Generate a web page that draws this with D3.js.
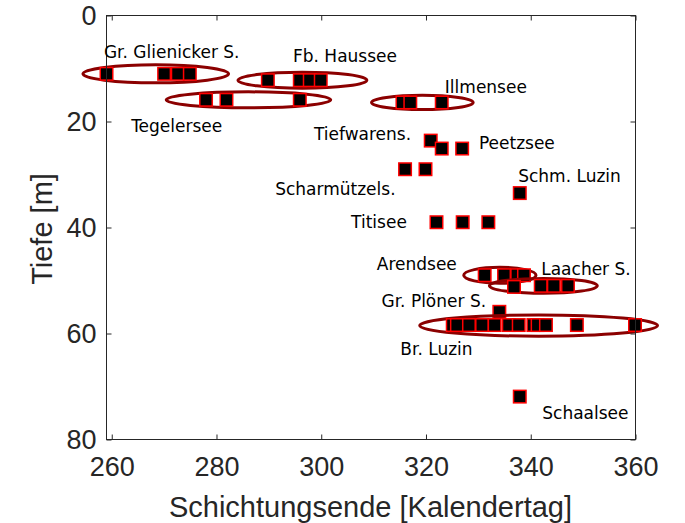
<!DOCTYPE html>
<html>
<head>
<meta charset="utf-8">
<script src="https://cdn.jsdelivr.net/npm/d3@7"></script>
<style>
  html, body { margin: 0; padding: 0; background: #fff; }
  svg { display: block; }
</style>
</head>
<body>
<svg id="chart" width="685" height="523"></svg>
<script>
// ---------------- data ----------------
const lakeNames = ["Gr. Glienicker S.", "Fb. Haussee", "Tegelersee", "Illmensee", "Tiefwarens.", "Peetzsee",
  "Scharmützels.", "Schm. Luzin", "Titisee", "Arendsee", "Laacher S.", "Gr. Plöner S.", "Br. Luzin", "Schaalsee"];

// end of stratification (calendar day) per lake
const dayValues = [
  [259.1, 270.1, 272.7, 275.0],
  [289.9, 296.0, 297.9, 300.0],
  [278.1, 282.0, 296.0],
  [315.6, 317.1, 323.1],
  [321.0, 323.1],
  [327.0],
  [316.1, 320.0],
  [338.0],
  [322.1, 327.1, 332.0],
  [331.3, 335.0, 337.5, 338.8],
  [336.9, 342.0, 344.5, 347.2],
  [334.1],
  [325.2, 326.0, 328.3, 330.8, 333.2, 335.9, 337.8, 340.6, 341.4, 343.0, 348.9, 360.0],
  [338.0]
];
// depth (m) per lake
const depthValues = [
  [11.1, 11.1, 11.1, 11.1],
  [12.3, 12.3, 12.3, 12.3],
  [16.0, 16.0, 16.0],
  [16.5, 16.5, 16.5],
  [23.7, 25.2],
  [25.2],
  [29.1, 29.1],
  [33.6],
  [39.1, 39.1, 39.1],
  [49.1, 49.1, 49.1, 49.1],
  [51.3, 51.1, 51.1, 51.1],
  [56.0],
  [58.5, 58.5, 58.5, 58.5, 58.5, 58.5, 58.5, 58.5, 58.5, 58.5, 58.5, 58.5],
  [72.0]
];
// spread ellipses (null = none): centre day, centre depth, half-width (days), half-height (m)
const ellipseDay    = [268.5, 296.5, 286.2, 319.4, null, null, null, null, null, 334.2, 342.5, null, 341.6, null];
const ellipseDepth  = [11.1, 12.3, 16.0, 16.5, null, null, null, null, null, 49.1, 51.1, null, 58.6, null];
const ellipseHalfW  = [13.9, 12.3, 15.7, 9.7, null, null, null, null, null, 6.9, 10.3, null, 22.7, null];
const ellipseHalfH  = [1.7, 1.5, 1.5, 1.35, null, null, null, null, null, 1.5, 1.4, null, 2.0, null];

// label anchor (start of text, baseline) in data units
const labelDay   = [258.6, 294.7, 263.8, 323.7, 298.7, 330.2, 291.3, 337.7, 305.8, 310.7, 342.1, 311.6, 315.2, 342.3];
const labelDepth = [8.1, 8.9, 22.1, 14.8, 23.5, 25.3, 34.0, 31.5, 40.2, 48.1, 49.1, 55.0, 64.2, 76.3];

const xTicks = [260, 280, 300, 320, 340, 360];
const yTicks = [0, 20, 40, 60, 80];
const xLabel = "Schichtungsende [Kalendertag]";
const yLabel = "Tiefe [m]";

// ---------------- chart ----------------
const svg = d3.select("#chart");
const pLeft = 106, pRight = 635, pTop = 15, pBottom = 439;
const x = d3.scaleLinear().domain([259, 360]).range([pLeft, pRight]);
const y = d3.scaleLinear().domain([0, 80]).range([pTop, pBottom]);

const axisColor = "#262626";
const tickFont = "'Liberation Sans', Arial, sans-serif";

// marks
const gMarks = svg.append("g");
lakeNames.forEach((name, i) => {
  const g = gMarks.append("g");
  if (ellipseDay[i] !== null) {
    g.append("ellipse")
      .attr("cx", x(ellipseDay[i]))
      .attr("cy", y(ellipseDepth[i]))
      .attr("rx", x(ellipseDay[i] + ellipseHalfW[i]) - x(ellipseDay[i]))
      .attr("ry", y(ellipseDepth[i] + ellipseHalfH[i]) - y(ellipseDepth[i]))
      .attr("fill", "none")
      .attr("stroke", "#8b0000")
      .attr("stroke-width", 3);
  }
  const pts = dayValues[i].map((d, j) => ({ day: d, depth: depthValues[i][j] }));
  const s = 12.5;
  g.selectAll("rect").data(pts).enter().append("rect")
    .attr("x", d => x(d.day) - s / 2)
    .attr("y", d => y(d.depth) - s / 2)
    .attr("width", s).attr("height", s)
    .attr("fill", "#000")
    .attr("stroke", "#ff0000")
    .attr("stroke-width", 1.5);
});

// box
svg.append("rect")
  .attr("x", pLeft + 0.5).attr("y", pTop + 0.5)
  .attr("width", pRight - pLeft).attr("height", pBottom - pTop)
  .attr("fill", "none").attr("stroke", axisColor).attr("stroke-width", 1);

// axes
const xAxis = d3.axisBottom(x).tickValues(xTicks).tickSize(-5).tickPadding(17).tickFormat(d3.format("d"));
svg.append("g").attr("transform", `translate(0.5,${pBottom + 0.5})`).call(xAxis);
const yAxis = d3.axisLeft(y).tickValues(yTicks).tickSize(-5).tickPadding(10).tickFormat(d3.format("d"));
svg.append("g").attr("transform", `translate(${pLeft + 0.5},0.5)`).call(yAxis);
// mirrored ticks
const xAxisTop = d3.axisTop(x).tickValues(xTicks).tickSize(-5).tickFormat("");
svg.append("g").attr("transform", `translate(0.5,${pTop + 0.5})`).call(xAxisTop);
const yAxisRight = d3.axisRight(y).tickValues(yTicks).tickSize(-5).tickFormat("");
svg.append("g").attr("transform", `translate(${pRight + 0.5},0.5)`).call(yAxisRight);

svg.selectAll(".domain").remove();
svg.selectAll(".tick line").attr("stroke", axisColor);
svg.selectAll(".tick text")
  .attr("fill", "#262626")
  .style("font-family", tickFont)
  .style("font-size", "27px");

// axis titles
svg.append("text")
  .attr("x", (pLeft + pRight) / 2).attr("y", 517)
  .attr("text-anchor", "middle")
  .style("font-family", tickFont).style("font-size", "29px")
  .attr("fill", "#262626")
  .text(xLabel);
svg.append("text")
  .attr("transform", `translate(52,${(pTop + pBottom) / 2 + 2}) rotate(-90)`)
  .attr("text-anchor", "middle")
  .style("font-family", tickFont).style("font-size", "29px")
  .attr("fill", "#262626")
  .text(yLabel);

// lake labels
svg.append("g").selectAll("text").data(lakeNames).enter().append("text")
  .attr("x", (d, i) => x(labelDay[i]))
  .attr("y", (d, i) => y(labelDepth[i]))
  .style("font-family", "'DejaVu Sans', Verdana, sans-serif")
  .style("font-size", "17px")
  .attr("fill", "#000")
  .text(d => d);
</script>
</body>
</html>
